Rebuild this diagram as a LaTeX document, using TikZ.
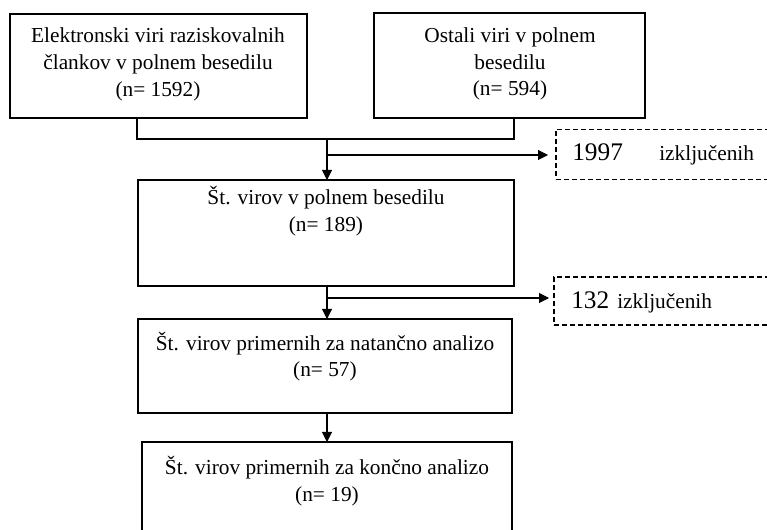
\documentclass[tikz,border=0pt]{standalone}
\usepackage{fontspec}
\setmainfont{Liberation Serif}
\usetikzlibrary{arrows.meta}
\begin{document}
\begin{tikzpicture}[x=0.75pt,y=-0.75pt,
 box/.style={draw, line width=0.8pt, inner sep=0pt, outer sep=0pt},
 dbox/.style={draw, line width=0.8pt, dash pattern=on 3.75pt off 2.25pt, inner sep=0pt, outer sep=0pt},
 txt/.style={align=center, font=\fontsize{16}{20}\selectfont, inner sep=0pt},
 big/.style={font=\fontsize{19}{23}\selectfont, inner sep=0pt},
 conn/.style={line width=0.8pt},
 arr/.style={conn, -{Triangle[length=7.5pt,width=7.5pt]}}]
\useasboundingbox (0,0) rectangle (767,530);
\clip (0,0) rectangle (767,530);
% boxes
\node[box, minimum width=222.75pt, minimum height=78pt] (b1) at (158.5,66) {};
\node[box, minimum width=203.25pt, minimum height=78.75pt] (b2) at (509.5,65.5) {};
\node[box, minimum width=282pt, minimum height=79.5pt] (b3) at (326,233) {};
\node[box, minimum width=280.5pt, minimum height=70.5pt] (b4) at (325,366) {};
\node[box, minimum width=277.5pt, minimum height=84.75pt] (b5) at (327,498.5) {};
\node[dbox, minimum width=175.5pt, minimum height=37.5pt] (d1) at (673,154.5) {};
\node[dbox, minimum width=177pt, minimum height=36pt] (d2) at (672,301) {};
% texts
\node[txt] (t1) at (158,64.5) {Elektronski viri raziskovalnih\\člankov v polnem besedilu\\(n= 1592)};
\node[txt] (t2) at (510,64) {Ostali viri v polnem\\besedilu\\(n= 594)};
\node[txt] (t3) at (326,211) {Št. virov v polnem besedilu\\(n= 189)};
\node[txt] (t4) at (325,356.5) {Št. virov primernih za natančno analizo\\(n= 57)};
\node[txt] (t5) at (327,481) {Št. virov primernih za končno analizo\\(n= 19)};
\node[big, anchor=base west] (n1) at (572,161) {1997};
\node[txt, anchor=base west] (x1) at (659,161) {izključenih};
\node[big, anchor=base west] (n2) at (571,309) {132};
\node[txt, anchor=base west] (x2) at (617,309) {izključenih};
% connectors
\coordinate (c1) at (137,0);
\coordinate (c2) at (514,0);
\coordinate (ax) at (327,0);
\coordinate (j1) at (327,139);
\coordinate (j2) at (327,155);
\coordinate (j3) at (327,298);
\draw[conn] (b1.south -| c1) |- (j1) -| (b2.south -| c2);
\draw[arr] (j1) -- (b3.north -| ax);
\draw[arr, shorten >=6pt] (j2) -- (j2 -| d1.west);
\draw[arr] (b3.south -| ax) -- (b4.north -| ax);
\draw[arr, shorten >=3.75pt] (j3) -- (j3 -| d2.west);
\draw[arr] (b4.south -| ax) -- (b5.north -| ax);
\end{tikzpicture}
\end{document}
